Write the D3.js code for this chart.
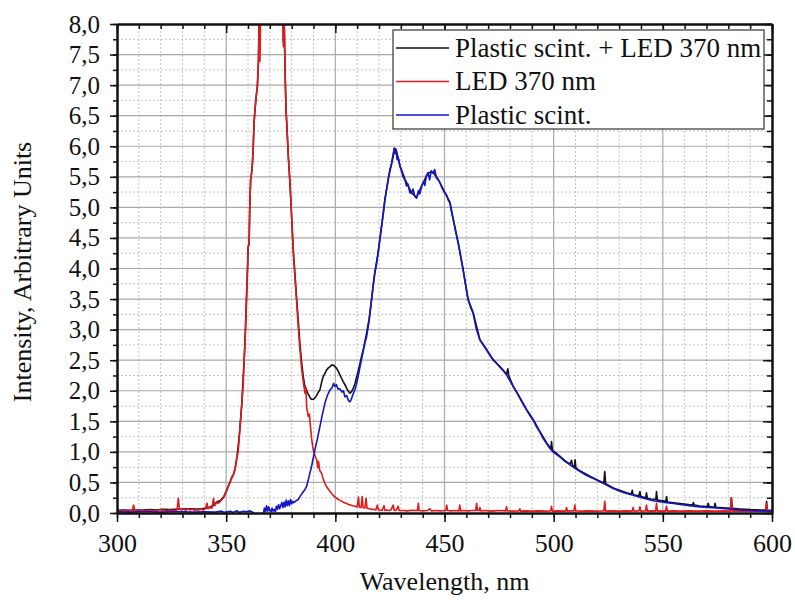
<!DOCTYPE html>
<html>
<head>
<meta charset="utf-8">
<script src="https://cdn.jsdelivr.net/npm/d3@7"></script>
</head>
<body style="margin:0">
<svg id="chart" width="795" height="602"></svg>
<script>
// Emission spectra: wavelength (nm), intensity (arbitrary units)

// LED 370 nm alone
const ledSpectrum = [
  [300,0.03],[301,0.04],[302,0.03],[303,0.04],[304,0.035],[305,0.03],[306,0.04],[307,0.04],[307.6,0.13],[308.1,0.04],
  [309,0.035],[310,0.03],[311,0.045],[312,0.04],[313,0.03],[314,0.04],[315,0.05],[316,0.035],[317,0.04],[318,0.03],
  [319,0.045],[320,0.06],[320.5,0.04],[321.5,0.05],[322.5,0.035],[323.5,0.04],[324.5,0.05],[325.5,0.04],[326.5,0.045],
  [327.5,0.05],[328.1,0.24],[328.6,0.06],[329.5,0.05],[330.5,0.06],[331.5,0.045],[332.5,0.07],[333.5,0.05],[334.5,0.06],
  [335.5,0.045],[336.5,0.055],[337.5,0.05],[338.5,0.06],[339.5,0.05],[340.5,0.07],[341.2,0.16],[341.7,0.07],[342.5,0.09],
  [343.5,0.08],[344.2,0.24],[344.7,0.12],[345.7,0.17],[346.5,0.16],[347.5,0.2],[348.8,0.25],[349.5,0.3],[350.3,0.37],
  [351.2,0.45],[352,0.52],[352.6,0.6],[353.3,0.62],[354.1,0.72],[355,0.92],[355.5,1.0],[356,1.25],[356.7,1.55],[357.2,1.8],
  [357.8,2.1],[358.5,2.7],[359,3.1],[359.3,3.5],[359.8,4.0],[360.1,4.36],[360.5,4.4],[360.8,5.0],[361.2,5.45],[361.8,5.6],
  [362.3,5.9],[362.8,6.4],[363.2,6.6],[363.7,6.8],[364.3,6.98],[364.8,7.41],[365.2,8.3],[365.5,7.39],[365.9,8.6],[367,9.4],
  [369,10.0],[371,10.3],[373,10.0],[375,9.0],[375.9,8.4],[376.2,7.63],[376.5,8.2],[377,7.2],[377.4,6.6],[378,6.2],
  [378.5,5.8],[379.2,5.4],[380,4.85],[380.7,4.3],[381.3,3.95],[382.2,3.5],[383,3.05],[383.8,2.67],[384.6,2.35],[385.3,2.15],
  [386.1,1.96],[386.5,2.05],[386.9,1.72],[387.6,1.58],[388.1,1.62],[388.6,1.42],[389.2,1.2],[389.9,1.03],[390.6,0.95],
  [391.1,0.9],[391.5,0.87],[391.9,0.74],[392.3,0.84],[392.8,0.7],[393.7,0.65],[394.5,0.55],[395.3,0.48],[396,0.43],
  [397,0.38],[398,0.33],[399,0.29],[400,0.26],[401,0.23],[402,0.21],[403,0.19],[404,0.17],[405,0.16],[406,0.14],
  [407,0.13],[408,0.12],[409,0.11],[410,0.1],[410.6,0.26],[411,0.1],[411.8,0.09],[412.3,0.27],[412.7,0.09],[413.5,0.08],
  [414.1,0.24],[414.5,0.08],[415.5,0.07],[416.5,0.06],[417.5,0.06],[418.5,0.05],[419.3,0.13],[419.7,0.05],[420.5,0.05],
  [421.5,0.04],[422.3,0.12],[422.7,0.04],[423.5,0.05],[424.5,0.04],[425.5,0.05],[426.5,0.13],[427,0.04],[428,0.05],
  [428.8,0.11],[429.2,0.04],[431,0.04],[433,0.035],[435,0.045],[437.6,0.04],[438,0.16],[438.4,0.04],[440,0.035],
  [442,0.04],[443.3,0.07],[444,0.035],[446,0.04],[448,0.035],[450.6,0.04],[451,0.13],[451.4,0.04],[453,0.035],[455,0.04],
  [456.6,0.035],[457,0.13],[457.4,0.035],[459,0.04],[461,0.035],[463,0.04],[464.3,0.04],[464.7,0.16],[465.1,0.04],
  [465.8,0.04],[466.2,0.09],[466.6,0.035],[469,0.04],[471,0.03],[473,0.035],[475,0.04],[478,0.035],[478.4,0.1],
  [478.8,0.035],[481,0.03],[484.1,0.035],[484.5,0.07],[484.9,0.03],[487,0.035],[490,0.03],[493,0.035],[496,0.03],
  [498.6,0.035],[499,0.11],[499.4,0.03],[502,0.035],[505.5,0.03],[505.9,0.09],[506.3,0.03],[508,0.035],[509.3,0.035],
  [509.7,0.13],[510.1,0.035],[513,0.03],[516,0.035],[519,0.03],[523,0.035],[523.4,0.19],[523.8,0.03],[527,0.035],
  [530,0.03],[533,0.035],[536,0.03],[536.4,0.09],[536.8,0.03],[539.1,0.035],[539.5,0.1],[539.9,0.03],[542.1,0.035],
  [542.5,0.13],[542.9,0.03],[545,0.035],[546.7,0.03],[547.1,0.16],[547.5,0.03],[549.5,0.035],[551.3,0.03],[551.7,0.11],
  [552.1,0.03],[555,0.035],[558,0.03],[562,0.035],[566,0.03],[570,0.035],[574,0.03],[578,0.035],[581,0.03],[581.4,0.24],
  [581.8,0.03],[585,0.035],[589,0.03],[593,0.035],[597.1,0.03],[597.5,0.15],[597.9,0.03],[600,0.03]
];

// Plastic scintillator alone
const scintSpectrum = [
  [300,0.02],[305,0.015],[310,0.02],[315,0.02],[320,0.015],[325,0.02],[330,0.02],[335,0.015],[340,0.02],[345,0.015],
  [348,0.03],[349,0.01],[352,0.03],[353,0.01],[355,0.035],[356,0.01],[358,0.03],[359,0.02],[361,0.035],[362.3,0.01],
  [362.8,-0.05],[367,-0.05],[367.3,0.04],[367.5,0.08],[368,0.02],[368.5,0.12],[369,0.03],[369.5,0.1],[370,0.04],
  [370.5,0.02],[371,0.08],[371.5,0.03],[372,0.06],[372.5,0.02],[373,0.11],[373.5,0.06],[374,0.14],[374.5,0.07],
  [375,0.12],[375.5,0.17],[376,0.09],[376.5,0.18],[377,0.1],[377.5,0.21],[378,0.12],[378.5,0.2],[379,0.12],[379.5,0.22],
  [380,0.15],[380.5,0.19],[381,0.17],[382,0.2],[383,0.22],[384,0.28],[385,0.33],[386,0.38],[386.8,0.43],[388,0.6],
  [389.1,0.76],[390,0.92],[390.6,1.03],[391.7,1.2],[392.9,1.41],[394,1.6],[395.2,1.79],[396.3,1.92],[397.5,2.01],
  [398.5,2.05],[399.2,2.12],[399.8,2.07],[400.5,2.1],[401.2,2.03],[402.1,2.03],[403,1.98],[403.7,2.0],[404.4,1.9],
  [405.2,1.92],[406,1.84],[406.7,1.82],[407.3,1.86],[408.2,1.95],[409,2.02],[410,2.15],[411.3,2.39],[412.5,2.6],
  [413.5,2.78],[414.3,2.88],[415.5,3.15],[416.6,3.49],[417.4,3.75],[418.1,3.93],[418.8,4.05],[419.6,4.25],[420.3,4.45],
  [421.2,4.69],[422,4.9],[422.7,5.12],[423.5,5.3],[424.2,5.45],[425,5.62],[425.7,5.7],[426.5,5.83],[427,5.96],
  [427.4,5.88],[427.8,5.94],[428.3,5.78],[428.8,5.82],[429.6,5.67],[430.3,5.6],[431,5.5],[431.9,5.45],[432.6,5.35],
  [433.3,5.38],[434.1,5.24],[434.9,5.23],[435.6,5.3],[436.4,5.18],[437.2,5.15],[438,5.27],[438.7,5.22],[439.5,5.34],
  [440.3,5.42],[441,5.36],[441.7,5.52],[442.5,5.56],[443.2,5.45],[443.9,5.6],[444.8,5.56],[445.5,5.62],[446.3,5.48],
  [447.1,5.45],[448,5.4],[448.8,5.32],[449.5,5.28],[450.2,5.23],[451,5.2],[451.7,5.12],[452.5,5.07],[453.2,4.93],
  [454,4.8],[455,4.62],[456.3,4.41],[457.4,4.2],[458.5,3.98],[459.6,3.74],[460.8,3.49],[462,3.36],[463.1,3.27],
  [464.5,3.02],[466.2,2.83],[467.7,2.75],[469.2,2.67],[470.8,2.58],[472.3,2.5],[473.8,2.45],[475.3,2.39],[476.9,2.33],
  [478.4,2.26],[480,2.16],[481.4,2.07],[483,1.98],[484.5,1.88],[486,1.78],[487.5,1.69],[489,1.6],[490.6,1.52],[492,1.42],
  [493.6,1.33],[495,1.23],[496.7,1.14],[498.2,1.06],[499.7,1.0],[501.2,0.96],[502.8,0.92],[505,0.85],[507.4,0.79],
  [509.7,0.73],[512,0.68],[514.3,0.63],[516.6,0.59],[519,0.55],[521.2,0.51],[524,0.46],[527.3,0.40],[530,0.36],
  [533.4,0.32],[536.5,0.29],[539.5,0.26],[542.5,0.23],[545.6,0.2],[548.6,0.185],[551.7,0.17],[555,0.155],[557.8,0.14],
  [562,0.12],[567,0.10],[571,0.09],[576,0.08],[580,0.065],[585.3,0.05],[590,0.04],[595,0.035],[600,0.03]
];

// Plastic scintillator excited by the LED 370 nm
const combinedSpectrum = [
  [300,0.045],[303,0.05],[306,0.045],[309,0.05],[312,0.05],[315,0.055],[318,0.05],[321,0.06],[324,0.055],[327,0.06],
  [330,0.065],[333,0.07],[336,0.065],[339,0.07],[342,0.09],[344,0.12],[345.7,0.18],[347.5,0.21],[348.8,0.26],
  [350.3,0.38],[352,0.53],[353.3,0.63],[354.1,0.73],[355,0.93],[356,1.26],[357.2,1.81],[358.5,2.7],[359.3,3.5],
  [360.1,4.36],[360.5,4.4],[360.8,5.0],[361.2,5.45],[361.8,5.6],[362.3,5.9],[362.8,6.4],[363.2,6.6],[363.7,6.8],
  [364.3,6.98],[364.8,7.41],[365.2,8.3],[366,9],[370,10],[375,9],[375.9,8.4],[376.2,7.7],[376.5,8.2],[377,7.2],
  [377.4,6.62],[378.5,5.82],[379.2,5.42],[380.7,4.32],[382.2,3.55],[383.8,2.75],[384.6,2.45],[385.3,2.23],[386,2.08],
  [386.8,2.01],[387.5,1.95],[388.3,1.9],[389,1.86],[389.9,1.86],[390.6,1.88],[391.4,1.92],[392.1,1.97],[392.9,2.01],
  [393.6,2.12],[394.4,2.23],[395.2,2.28],[396,2.34],[396.7,2.37],[397.5,2.39],[398.2,2.42],[399,2.42],[399.7,2.4],
  [400.5,2.37],[401.3,2.32],[402.1,2.26],[402.9,2.2],[403.6,2.15],[404.4,2.1],[405.2,2.04],[406,1.99],[406.7,1.96],
  [407.5,1.99],[408.2,2.04],[409,2.12],[409.8,2.23],[410.5,2.33],[411.3,2.45],[412,2.56],[412.8,2.67],[413.5,2.8],
  [414.3,2.94],[415.5,3.18],[416.6,3.5],[418.1,3.94],[419.6,4.26],[421.2,4.7],[422.7,5.13],[424.2,5.46],[425.7,5.71],
  [427,5.97],[427.8,5.95],[429.6,5.68],[431.9,5.46],[434.9,5.24],[437.2,5.16],[439.5,5.35],[442.5,5.57],[444.8,5.57],
  [447.1,5.46],[450.2,5.24],[452.5,5.08],[454,4.81],[456.3,4.42],[458.5,3.99],[460.8,3.5],[463.1,3.28],[466.2,2.84],
  [469.2,2.68],[472.3,2.51],[475.3,2.4],[478.4,2.27],[479,2.36],[479.4,2.25],[481.4,2.08],[484.5,1.89],[487.5,1.7],
  [490.6,1.53],[493.6,1.34],[496.7,1.15],[498.7,1.05],[499,1.17],[499.4,1.03],[502.8,0.93],[505,0.86],[507.4,0.8],
  [508.2,0.86],[508.6,0.78],[509.5,0.75],[509.8,0.87],[510.2,0.74],[512,0.69],[516.6,0.6],[521.2,0.52],[523,0.49],
  [523.4,0.68],[523.8,0.48],[527.3,0.41],[533.4,0.33],[535.5,0.31],[536,0.37],[536.4,0.3],[539,0.28],[539.5,0.35],
  [539.9,0.27],[542.2,0.25],[542.5,0.33],[542.9,0.24],[544.5,0.23],[546.8,0.22],[547.1,0.35],[547.5,0.21],[551.4,0.19],
  [551.7,0.27],[552.1,0.18],[557.8,0.155],[563.6,0.13],[564,0.17],[564.4,0.13],[567,0.115],[570.5,0.105],[570.8,0.16],
  [571.2,0.105],[573.6,0.095],[573.9,0.16],[574.3,0.095],[576,0.09],[581,0.075],[581.4,0.25],[581.8,0.075],[585.3,0.065],
  [590,0.055],[595,0.05],[597.2,0.05],[597.5,0.19],[597.8,0.05],[600,0.045]
];

// Axis ticks
const xMajorTicks = [300, 350, 400, 450, 500, 550, 600];
const xMinorTicks = d3.range(300, 601, 10);
const yMajorTicks = d3.range(0, 8.01, 0.5);
const yMinorTicks = d3.range(0, 8.01, 0.25);

// Legend entries (drawing order: combined, LED, scintillator)
const seriesNames = ["Plastic scint. + LED 370 nm", "LED 370 nm", "Plastic scint."];
const seriesColors = ["#111111", "#e3191c", "#1414c8"];

const FONT = "'Liberation Serif'";

const svg = d3.select("#chart");
const margin = { top: 24, right: 23, bottom: 89, left: 117 };
const W = 795, H = 602;
const innerW = W - margin.left - margin.right;
const innerH = H - margin.top - margin.bottom;

const x = d3.scaleLinear().domain([300, 600]).range([margin.left, margin.left + innerW]);
const y = d3.scaleLinear().domain([0, 8]).range([margin.top + innerH, margin.top]);

// Grid: solid at major ticks, dotted at minor ticks
const grid = svg.append("g");
grid.selectAll(".gx-minor").data(xMinorTicks.filter(v => v % 50 !== 0)).join("line")
  .attr("x1", d => x(d)).attr("x2", d => x(d)).attr("y1", y(0)).attr("y2", y(8))
  .attr("stroke", "#c4c4c4").attr("stroke-width", 1).attr("stroke-dasharray", "2,2");
grid.selectAll(".gy-minor").data(yMinorTicks.filter(v => Math.round(v * 4) % 2 !== 0)).join("line")
  .attr("x1", x(300)).attr("x2", x(600)).attr("y1", d => y(d)).attr("y2", d => y(d))
  .attr("stroke", "#c4c4c4").attr("stroke-width", 1).attr("stroke-dasharray", "2,2");
grid.selectAll(".gx-major").data(xMajorTicks.slice(1, -1)).join("line")
  .attr("x1", d => x(d)).attr("x2", d => x(d)).attr("y1", y(0)).attr("y2", y(8))
  .attr("stroke", "#a9a9a9").attr("stroke-width", 1.2);
grid.selectAll(".gy-major").data(yMajorTicks.slice(1, -1)).join("line")
  .attr("x1", x(300)).attr("x2", x(600)).attr("y1", d => y(d)).attr("y2", d => y(d))
  .attr("stroke", "#a9a9a9").attr("stroke-width", 1.2);

// Spectra, clipped to the plot area
svg.append("defs").append("clipPath").attr("id", "plot-clip")
  .append("rect").attr("x", x(300)).attr("y", y(8)).attr("width", innerW).attr("height", innerH);

const line = d3.line().x(d => x(d[0])).y(d => y(d[1]));
const curves = svg.append("g").attr("clip-path", "url(#plot-clip)");
[combinedSpectrum, ledSpectrum, scintSpectrum].forEach((data, i) => {
  curves.append("path").datum(data)
    .attr("d", line)
    .attr("fill", "none")
    .attr("stroke", seriesColors[i])
    .attr("stroke-width", 1.6)
    .attr("stroke-linejoin", "round");
});

// Axes
const fmtY = v => d3.format(".1f")(v).replace(".", ",");
const styleAxis = g => {
  g.attr("font-family", null).attr("font-size", null);
  g.selectAll(".domain").attr("stroke", "#111").attr("stroke-width", 2);
  g.selectAll(".tick line").attr("stroke", "#111").attr("stroke-width", 1.5);
  g.selectAll("text").style("font-family", FONT).attr("fill", "#111");
};

// bottom
svg.append("g").attr("transform", `translate(0,${y(0)})`)
  .call(d3.axisBottom(x).tickValues(xMinorTicks).tickSize(5).tickSizeOuter(0).tickFormat(""))
  .call(styleAxis);
svg.append("g").attr("transform", `translate(0,${y(0)})`)
  .call(d3.axisBottom(x).tickValues(xMajorTicks).tickSize(9).tickSizeOuter(0).tickPadding(12).tickFormat(d3.format("d")))
  .call(styleAxis)
  .call(g => g.selectAll("text").style("font-size", "26px"));

// top (inward ticks)
svg.append("g").attr("transform", `translate(0,${y(8)})`)
  .call(d3.axisTop(x).tickValues(xMinorTicks).tickSize(-5).tickSizeOuter(0).tickFormat(""))
  .call(styleAxis);
svg.append("g").attr("transform", `translate(0,${y(8)})`)
  .call(d3.axisTop(x).tickValues(xMajorTicks).tickSize(-9).tickSizeOuter(0).tickFormat(""))
  .call(styleAxis);

// left
svg.append("g").attr("transform", `translate(${x(300)},0)`)
  .call(d3.axisLeft(y).tickValues(yMinorTicks).tickSize(4).tickSizeOuter(0).tickFormat(""))
  .call(styleAxis);
svg.append("g").attr("transform", `translate(${x(300)},0)`)
  .call(d3.axisLeft(y).tickValues(yMajorTicks).tickSize(7).tickSizeOuter(0).tickPadding(10).tickFormat(fmtY))
  .call(styleAxis)
  .call(g => g.selectAll("text").style("font-size", "25px"));

// right (inward ticks)
svg.append("g").attr("transform", `translate(${x(600)},0)`)
  .call(d3.axisRight(y).tickValues(yMinorTicks).tickSize(-5).tickSizeOuter(0).tickFormat(""))
  .call(styleAxis);
svg.append("g").attr("transform", `translate(${x(600)},0)`)
  .call(d3.axisRight(y).tickValues(yMajorTicks).tickSize(-9).tickSizeOuter(0).tickFormat(""))
  .call(styleAxis);

// Axis titles
svg.append("text")
  .attr("x", (x(300) + x(600)) / 2).attr("y", 590)
  .attr("text-anchor", "middle").attr("fill", "#111")
  .style("font-family", FONT).style("font-size", "26px")
  .text("Wavelength, nm");
svg.append("text")
  .attr("transform", `translate(31,272) rotate(-90)`)
  .attr("text-anchor", "middle").attr("fill", "#111")
  .style("font-family", FONT).style("font-size", "26px")
  .text("Intensity, Arbitrary Units");

// Legend
const legend = svg.append("g").attr("transform", "translate(393,30)");
legend.append("rect").attr("width", 371).attr("height", 99)
  .attr("fill", "#fff").attr("stroke", "#333").attr("stroke-width", 1.2);
seriesNames.forEach((name, i) => {
  const cy = 18 + i * 33.5;
  legend.append("line").attr("x1", 3).attr("x2", 56).attr("y1", cy).attr("y2", cy)
    .attr("stroke", seriesColors[i]).attr("stroke-width", 1.3);
  legend.append("text").attr("x", 62).attr("y", cy + 8.5).attr("fill", "#111")
    .style("font-family", FONT).style("font-size", "27px")
    .text(name);
});
</script>
</body>
</html>
